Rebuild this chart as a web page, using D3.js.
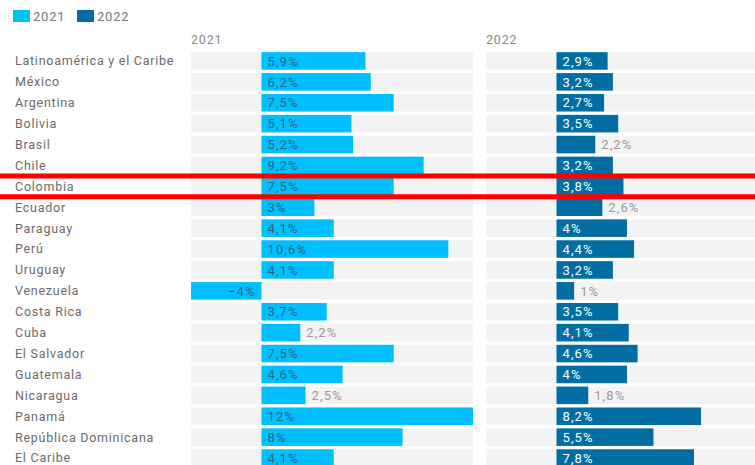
<!DOCTYPE html>
<html><head><meta charset="utf-8">
<script src="https://cdnjs.cloudflare.com/ajax/libs/d3/7.8.5/d3.min.js"></script>
<style>
body{margin:0;background:#fff;}
svg{display:block;font-family:Roboto,"Open Sans",sans-serif;}
</style></head><body>
<script>
const categories = ["Latinoamérica y el Caribe","México","Argentina","Bolivia","Brasil","Chile","Colombia","Ecuador","Paraguay","Perú","Uruguay","Venezuela","Costa Rica","Cuba","El Salvador","Guatemala","Nicaragua","Panamá","República Dominicana","El Caribe"];
const values2021 = [5.9,6.2,7.5,5.1,5.2,9.2,7.5,3,4.1,10.6,4.1,-4,3.7,2.2,7.5,4.6,2.5,12,8,4.1];
const values2022 = [2.9,3.2,2.7,3.5,2.2,3.2,3.8,2.6,4,4.4,3.2,1,3.5,4.1,4.6,4,1.8,8.2,5.5,7.8];
const seriesNames = ["2021","2022"];
const highlight = "Colombia";

const W=755,H=465;
const svg=d3.select("body").append("svg").attr("width",W).attr("height",H);
const loc=d3.formatLocale({decimal:",",thousands:".",grouping:[3],currency:["","€"],minus:"\u2212"});
const fmt=v=>loc.format(Number.isInteger(v)?"d":".1f")(v)+"%";

const y=d3.scaleBand().domain(categories).range([50.5,468.5]).paddingInner(0.16).paddingOuter(0.08);
const panels=[
 {name:seriesNames[0],vals:values2021,x:d3.scaleLinear().domain([-4,12]).range([191,473]),color:"#00bfff",inText:"#2b6480"},
 {name:seriesNames[1],vals:values2022,x:d3.scaleLinear().domain([-4,12]).range([486,768]),color:"#006ea3",inText:"#ffffff"}
];

// legend
const lg=svg.append("g");
panels.forEach((p,i)=>{
  const gx=13+i*64;
  lg.append("rect").attr("x",gx).attr("y",10).attr("width",17).attr("height",12).attr("fill",p.color);
  lg.append("text").attr("x",gx+20).attr("y",16).attr("dy","0.35em").attr("font-size",13).attr("letter-spacing","0.8").attr("fill","#777").text(p.name);
});

// category labels
svg.append("g").selectAll("text").data(categories).join("text")
 .attr("x",15).attr("y",d=>y(d)+y.bandwidth()/2).attr("dy","0.35em")
 .attr("font-size",12.5).attr("fill","#6a6a6a").attr("letter-spacing","0.75").text(d=>d);

panels.forEach(p=>{
  const g=svg.append("g");
  const [r0,r1]=p.x.range();
  g.append("text").attr("x",r0).attr("y",44).attr("font-size",12.5).attr("letter-spacing","0.8").attr("fill","#888").text(p.name);
  g.selectAll("rect.bg").data(categories).join("rect").attr("class","bg")
   .attr("x",r0).attr("width",r1-r0).attr("y",d=>y(d)).attr("height",y.bandwidth()).attr("fill","#f3f3f3");
  const data=categories.map((c,i)=>({c,v:p.vals[i]}));
  g.selectAll("rect.bar").data(data).join("rect").attr("class","bar")
   .attr("x",d=>p.x(Math.min(0,d.v))).attr("width",d=>Math.abs(p.x(d.v)-p.x(0)))
   .attr("y",d=>y(d.c)).attr("height",y.bandwidth()).attr("fill",p.color);
  g.selectAll("text.val").data(data).join("text").attr("class","val")
   .attr("y",d=>y(d.c)+y.bandwidth()/2).attr("dy","0.36em").attr("font-size",13).attr("letter-spacing","1.1")
   .attr("x",d=>{ if(d.v<0) return p.x(0)-6; return d.v<2.65? p.x(d.v)+6 : p.x(0)+6;})
   .attr("text-anchor",d=>d.v<0?"end":"start")
   .attr("fill",d=>(d.v>=0&&d.v<2.65)?"#999":p.inText)
   .text(d=>fmt(d.v));
});

// highlight lines around Colombia
const hy0=y(highlight), hy1=y(highlight)+y.bandwidth();
[hy0-1.5, hy1+1.5].forEach(yy=>{
  svg.append("line").attr("x1",0).attr("x2",W).attr("y1",yy).attr("y2",yy).attr("stroke","#ff0000").attr("stroke-width",5);
});
</script></body></html>
